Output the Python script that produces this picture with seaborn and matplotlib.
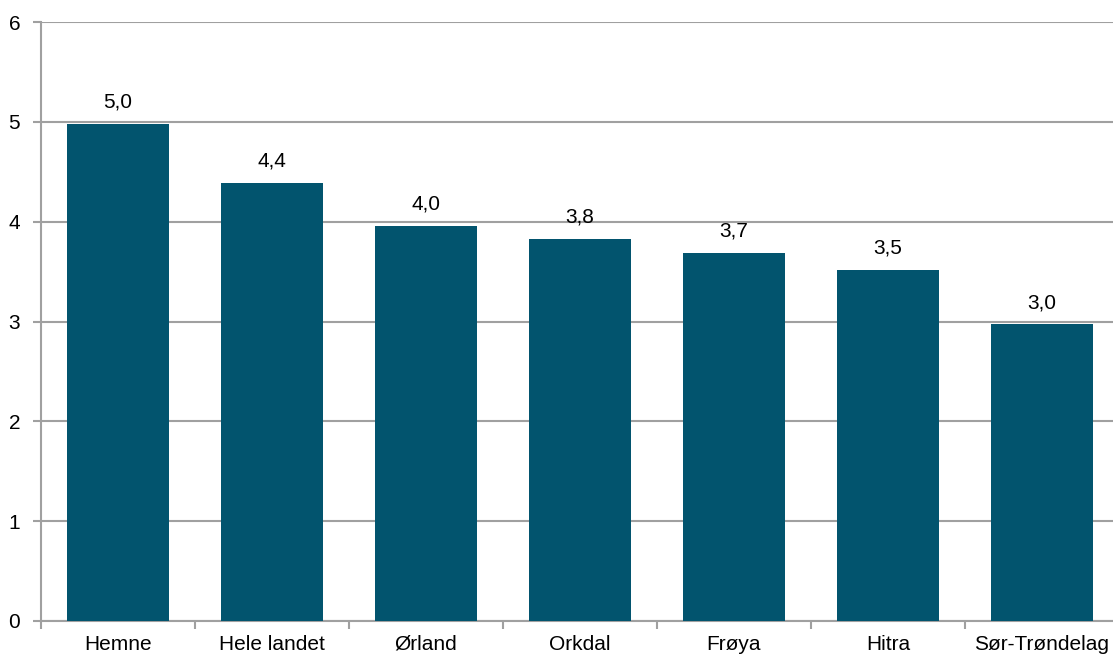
import pandas as pd
import seaborn as sns
import matplotlib.pyplot as plt
from matplotlib.ticker import MultipleLocator, FixedLocator

kommuner = ["Hemne", "Hele landet", "Ørland", "Orkdal", "Frøya", "Hitra", "Sør-Trøndelag"]
verdier = [4.98, 4.39, 3.96, 3.83, 3.69, 3.52, 2.97]
etiketter = ["5,0", "4,4", "4,0", "3,8", "3,7", "3,5", "3,0"]

df = pd.DataFrame({"kommune": kommuner, "verdi": verdier})

sns.set_style("white")
plt.rcParams['font.family'] = ['Liberation Sans', 'DejaVu Sans']

fig = plt.figure(figsize=(11.13, 6.57), dpi=100)
ax = fig.add_axes([0.0368, 0.0548, 0.9686, 0.9117])

sns.barplot(data=df, x="kommune", y="verdi", color="#02546E", width=0.66,
            saturation=1, linewidth=0, ax=ax, zorder=3)

for i, (v, t) in enumerate(zip(verdier, etiketter)):
    ax.text(i, v + 0.12, t, ha="center", va="bottom", fontsize=15, color="black")

ax.set_ylim(0, 6)
ax.set_xlim(-0.5, 6.5)
ax.yaxis.set_major_locator(MultipleLocator(1))
ax.xaxis.set_minor_locator(FixedLocator([i - 0.5 for i in range(len(kommuner) + 1)]))
ax.grid(axis="y", color="#A0A0A0", linewidth=1.5, zorder=0)
ax.set_xlabel("")
ax.set_ylabel("")

for s in ["top", "right"]:
    ax.spines[s].set_visible(False)
for s in ["left", "bottom"]:
    ax.spines[s].set_color("#A0A0A0")
    ax.spines[s].set_linewidth(1.5)

ax.tick_params(axis="y", which="major", length=6, width=1.5, color="#A0A0A0",
               labelsize=15, labelcolor="black", pad=9, left=True)
ax.tick_params(axis="x", which="major", length=0, labelsize=15, labelcolor="black", pad=10)
ax.tick_params(axis="x", which="minor", length=6, width=1.5, color="#A0A0A0", bottom=True)

fig.savefig("out.png", dpi=100)
